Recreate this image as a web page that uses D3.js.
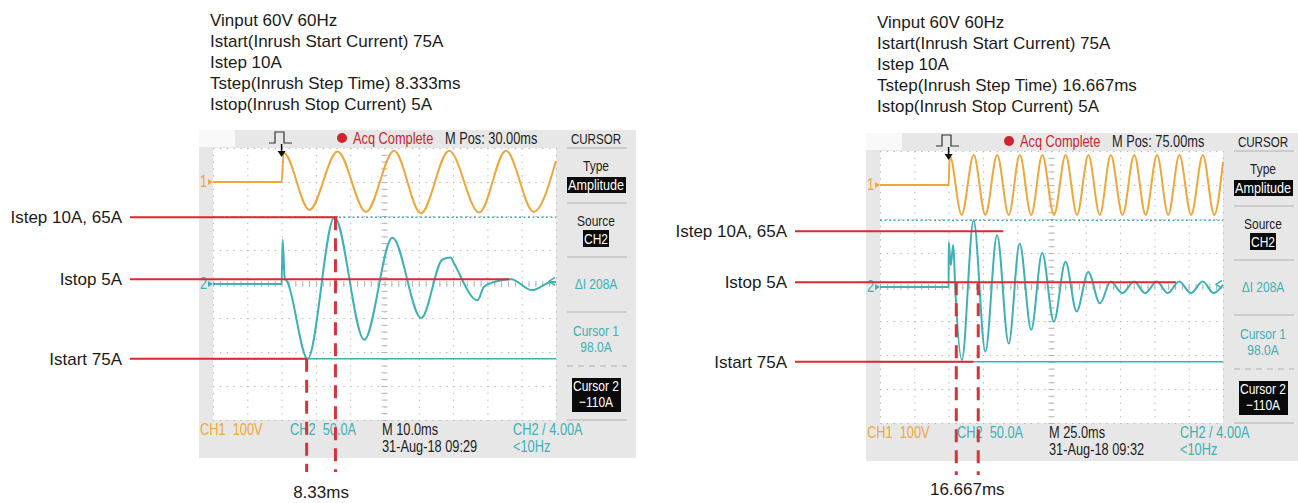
<!DOCTYPE html>
<html lang="en">
<head>
<meta charset="utf-8" />
<title>Inrush current captures</title>
<style>
  body { margin: 0; background: #fff; }
  svg { display: block; }
  .note { font: 17px "Liberation Sans", Arial, sans-serif; fill: #1b1b1b; }
  .scope text { font-family: "Liberation Sans", Arial, sans-serif; font-size: 16px; }
  .scope .side { font-size: 15px; }
  .scope .head { font-size: 14.5px; }
  .grid line { stroke: #b4b4b4; }
  .grid path { display: none; }
</style>
</head>
<body>
<div id="chart"></div>
<script src="https://d3js.org/d3.v7.min.js"></script>
<script>
var width = 1298, height = 503;

// settings printed above each capture
var leftNotes = ["Vinput 60V 60Hz", "Istart(Inrush Start Current) 75A", "Istep 10A",
                 "Tstep(Inrush Step Time) 8.333ms", "Istop(Inrush Stop Current) 5A"];
var rightNotes = ["Vinput 60V 60Hz", "Istart(Inrush Start Current) 75A", "Istep 10A",
                  "Tstep(Inrush Step Time) 16.667ms", "Istop(Inrush Stop Current) 5A"];

// left capture (10 ms/div): time in ms, CH1 in volts, CH2 in amps
var leftCh1Time = [-20, 0, 0.6, 8.1, 16.3, 24.6, 32.8, 40.6, 48.8, 57.6, 65.4, 73.5, 80];
var leftCh1Volt = [0, 0, 86, -82, 90, -88, 92, -92, 92, -90, 92, -88, 62];
var leftCh2Time = [-20, 0, 0.3, 0.9, 1.7, 7.6, 15.4, 24.1, 32.3, 40.7, 46.9, 49.3, 50.3, 57.1, 59.0, 62.0, 66.9, 73.0, 78.8, 80];
var leftCh2Amp  = [0, 0, 65, 9, 3, -110, 98, -82, 68, -50, 36, 39, 30, -24, -4, 3, 7, -9, 3, 3];

// right capture (25 ms/div)
var rightCh1Time = [-50, 0, 0.8, 9.5, 18.3, 26.8, 35.4, 43.8, 51.9, 60.2, 68.3, 76.8, 85.3, 93.6,
                    101.9, 110.2, 118.2, 126.8, 135.3, 143.6, 151.9, 160.1, 168.2, 176.8, 185.3, 193.6, 200];
var rightCh1Volt = [0, 0, 86, -88, 88, -88, 88, -88, 88, -88, 88, -88, 88, -88,
                    88, -88, 88, -88, 88, -88, 88, -88, 88, -88, 88, -88, 68];
var rightCh2Time = [-50, 0, 0.1, 1.5, 3.4, 4.8, 9.7, 18.2, 26.8, 35.3, 43.8, 51.8, 60.2, 68.2, 76.7, 85.2,
                    93.3, 101.8, 110.3, 118.1, 126.7, 135.2, 143.2, 151.8, 159.6, 168.1, 176.6, 185.2, 193.2, 200];
var rightCh2Amp  = [0, 0, 66, 32, 62, 0, -107, 98, -95, 76, -83, 64, -63, 50, -51, 37,
                    -36, 22, -24, 8, -9, 8, -9, 8, -9, 8, -9, 8, -9, 3];

// red annotations: level lines (CH2 amps) that end at a time (ms), dashed time markers
var levelLabels = ["Istep 10A, 65A", "Istop 5A", "Istart 75A"];
var leftLevelAmp = [98, 7, -110];
var leftLevelEnd = [16.3, 66.3, 7.3];
var leftMarkTime = [7.3, 15.7];
var leftMarkTop = [-110, 98];
var rightLevelAmp = [82, 7, -110];
var rightLevelEnd = [39.9, 165.7, 18];
var rightMarkTime = [5.6, 21.6];
var rightMarkTop = [7, 7];

var cursor1 = 98, cursor2 = -110, trigLevel = 4;

var svg = d3.select("#chart").append("svg")
    .attr("width", width)
    .attr("height", height);

var ORANGE = "#eea73a", TEAL = "#3db1b4", RED = "#df282d";

// scope screen font is condensed, so squeeze text horizontally
function st(g, x, y, str, fill, anchor, cls, sx) {
  return g.append("text")
    .attr("class", cls || null)
    .attr("transform", "translate(" + x + "," + y + ") scale(" + (sx || 0.8) + ",1)")
    .attr("text-anchor", anchor || "start")
    .attr("fill", fill)
    .attr("xml:space", "preserve")
    .text(str);
}

function drawScope(s) {
  var gw = 343, gh = 272;
  var g = svg.append("g").attr("class", "scope");
  var x = d3.scaleLinear().domain(s.timeDomain).range([s.gx, s.gx + gw]);
  var y1 = d3.scaleLinear().domain([-700, 100]).range([s.gy + gh, s.gy]);
  var y2 = d3.scaleLinear().domain([-200, 200]).range([s.gy + gh, s.gy]);
  var right = s.gx + gw;

  // bezel + graticule
  g.append("rect").attr("x", s.gx - 14).attr("y", s.gy - 18)
    .attr("width", 437).attr("height", 328).attr("fill", "#e7e7e7");
  g.append("rect").attr("x", s.gx - 14).attr("y", s.gy - 18)
    .attr("width", 36).attr("height", 17).attr("fill", "#f9f9f9");
  g.append("rect").attr("x", s.gx).attr("y", s.gy)
    .attr("width", gw).attr("height", gh).attr("fill", "#fff");

  var div = s.timeDiv;
  var xGrid = d3.range(s.timeDomain[0], s.timeDomain[1] + div / 2, div);
  var yGrid = d3.range(-200, 201, 50);

  g.append("g").attr("class", "grid")
    .attr("transform", "translate(0," + s.gy + ")")
    .call(d3.axisTop(x).tickValues(xGrid).tickSize(-gh).tickFormat(""))
    .selectAll("line").attr("stroke-dasharray", "1.3," + (gh / 40 - 1.3));
  g.append("g").attr("class", "grid")
    .attr("transform", "translate(" + s.gx + ",0)")
    .call(d3.axisLeft(y2).tickValues(yGrid).tickSize(-gw).tickFormat(""))
    .selectAll("line").attr("stroke-dasharray", "1.3," + (gw / 50 - 1.3));

  // minor ticks on the centre lines
  var midT = (s.timeDomain[0] + s.timeDomain[1]) / 2;
  var minorT = d3.range(s.timeDomain[0], s.timeDomain[1], div / 5);
  var minorA = d3.range(-200, 200, 10);
  g.append("g").attr("class", "grid")
    .attr("transform", "translate(0," + y2(0) + ")")
    .call(d3.axisBottom(x).tickValues(minorT).tickSize(3).tickFormat(""));
  g.append("g").attr("class", "grid")
    .attr("transform", "translate(0," + y2(0) + ")")
    .call(d3.axisTop(x).tickValues(minorT).tickSize(3).tickFormat(""));
  g.append("g").attr("class", "grid")
    .attr("transform", "translate(" + x(midT) + ",0)")
    .call(d3.axisRight(y2).tickValues(minorA).tickSize(3).tickFormat(""));
  g.append("g").attr("class", "grid")
    .attr("transform", "translate(" + x(midT) + ",0)")
    .call(d3.axisLeft(y2).tickValues(minorA).tickSize(3).tickFormat(""));

  // cursors
  g.append("line").attr("x1", s.gx).attr("x2", right)
    .attr("y1", y2(cursor1)).attr("y2", y2(cursor1))
    .attr("stroke", TEAL).attr("stroke-width", 1.5).attr("stroke-dasharray", "2,2.5");
  g.append("line").attr("x1", s.gx).attr("x2", right)
    .attr("y1", y2(cursor2)).attr("y2", y2(cursor2))
    .attr("stroke", TEAL).attr("stroke-width", 1.5);

  // traces
  var line1 = d3.line().x(function(d) { return x(d[0]); }).y(function(d) { return y1(d[1]); }).curve(d3.curveMonotoneX);
  var line2 = d3.line().x(function(d) { return x(d[0]); }).y(function(d) { return y2(d[1]); }).curve(d3.curveMonotoneX);
  g.append("path").datum(d3.zip(s.ch1Time, s.ch1Volt)).attr("d", line1)
    .attr("fill", "none").attr("stroke", ORANGE).attr("stroke-width", 2);
  g.append("path").datum(d3.zip(s.ch2Time, s.ch2Amp)).attr("d", line2)
    .attr("fill", "none").attr("stroke", TEAL).attr("stroke-width", 2);

  // channel ground markers
  st(g, s.gx - 13, y1(0) + 5, "1", ORANGE);
  g.append("path").attr("d", "M" + (s.gx - 5) + "," + (y1(0) - 3) + "l5,3l-5,3z").attr("fill", ORANGE);
  st(g, s.gx - 13, y2(0) + 5, "2", TEAL);
  g.append("path").attr("d", "M" + (s.gx - 5) + "," + (y2(0) - 3) + "l5,3l-5,3z").attr("fill", TEAL);
  g.append("path").attr("d", "M" + (right - 1) + "," + (y2(trigLevel) - 4) + "l-6,4l6,4")
    .attr("fill", "none").attr("stroke", TEAL).attr("stroke-width", 1.5);

  // top bar
  var tx = x(0);
  g.append("path").attr("d", "M" + (s.gx + 56) + "," + (s.gy - 5) + "h6v-11h9v11h8")
    .attr("fill", "none").attr("stroke", "#333").attr("stroke-width", 1.2);
  g.append("line").attr("x1", tx).attr("x2", tx).attr("y1", s.gy - 4).attr("y2", s.gy + 4)
    .attr("stroke", "#111").attr("stroke-width", 1.5);
  g.append("path").attr("d", "M" + (tx - 4) + "," + (s.gy + 3) + "h8l-4,6z").attr("fill", "#111");
  g.append("circle").attr("cx", s.gx + 129).attr("cy", s.gy - 10).attr("r", 5).attr("fill", "#d2222c");
  st(g, s.gx + 140, s.gy - 4, "Acq Complete", "#c9262f");
  st(g, s.gx + 232, s.gy - 4, s.mpos, "#1e1e1e");

  // side menu
  var cx = right + 40;
  st(g, cx, s.gy - 4, "CURSOR", "#1e1e1e", "middle", "head");
  [0, 55, 109, 164, 218, 272].forEach(function(r, i) {
    g.append("line").attr("x1", right + 11).attr("x2", right + 71)
      .attr("y1", s.gy + r).attr("y2", s.gy + r)
      .attr("stroke", "#c3c3c3").attr("stroke-width", 1.5)
      .attr("stroke-dasharray", i === 4 ? "6,5" : null);
  });
  st(g, cx, s.gy + 23, "Type", "#1e1e1e", "middle", "side");
  g.append("rect").attr("x", right + 11).attr("y", s.gy + 29).attr("width", 59).attr("height", 16).attr("fill", "#0a0a0a");
  st(g, cx, s.gy + 42, "Amplitude", "#fff", "middle", "side", 0.84);
  st(g, cx, s.gy + 78, "Source", "#1e1e1e", "middle", "side");
  g.append("rect").attr("x", cx - 13).attr("y", s.gy + 82).attr("width", 26).attr("height", 17).attr("fill", "#0a0a0a");
  st(g, cx, s.gy + 96, "CH2", "#fff", "middle", "side");
  st(g, cx, s.gy + 141, "\u0394I 208A", TEAL, "middle", "side");
  st(g, cx, s.gy + 188, "Cursor 1", TEAL, "middle", "side");
  st(g, cx, s.gy + 204, cursor1.toFixed(1) + "A", TEAL, "middle", "side");
  g.append("rect").attr("x", right + 16).attr("y", s.gy + 230).attr("width", 49).attr("height", 34).attr("fill", "#0a0a0a");
  st(g, cx, s.gy + 243, "Cursor 2", "#fff", "middle", "side");
  st(g, cx, s.gy + 259, "\u2212" + Math.abs(cursor2) + "A", "#fff", "middle", "side");

  // status bar
  var r1 = s.gy + 287, r2 = s.gy + 304;
  st(g, s.gx - 13, r1, "CH1  100V", ORANGE);
  st(g, s.gx + 77, r1, "CH2  50.0A", TEAL);
  st(g, s.gx + 169, r1, s.mscale, "#1e1e1e");
  st(g, s.gx + 169, r2, s.stamp, "#1e1e1e");
  st(g, s.gx + 300, r1, "CH2 / 4.00A", TEAL);
  st(g, s.gx + 300, r2, "<10Hz", TEAL);

  // notes above
  svg.append("g").selectAll("text").data(s.notes).enter().append("text")
    .attr("class", "note")
    .attr("x", s.noteX)
    .attr("y", function(d, i) { return s.noteY + i * 21; })
    .text(function(d) { return d; });

  // red annotations
  var a = svg.append("g");
  s.levelAmp.forEach(function(v, i) {
    a.append("line").attr("x1", s.labelX + 8).attr("x2", x(s.levelEnd[i]))
      .attr("y1", y2(v)).attr("y2", y2(v))
      .attr("stroke", RED).attr("stroke-width", 2);
    a.append("text").attr("class", "note").attr("x", s.labelX).attr("y", y2(v) + 6)
      .attr("text-anchor", "end").text(levelLabels[i]);
  });
  s.markTime.forEach(function(t, i) {
    a.append("line").attr("x1", x(t)).attr("x2", x(t))
      .attr("y1", y2(s.markTop[i])).attr("y2", s.gy + 324)
      .attr("stroke", "#d7343a").attr("stroke-width", 3).attr("stroke-dasharray", "13,8");
  });
  a.append("text").attr("class", "note")
    .attr("x", (x(s.markTime[0]) + x(s.markTime[1])) / 2)
    .attr("y", s.gy + s.markLabelDy)
    .attr("text-anchor", "middle").text(s.markLabel);
}

drawScope({
  gx: 213, gy: 148, timeDomain: [-20, 80], timeDiv: 10,
  ch1Time: leftCh1Time, ch1Volt: leftCh1Volt, ch2Time: leftCh2Time, ch2Amp: leftCh2Amp,
  mpos: "M Pos: 30.00ms", mscale: "M 10.0ms", stamp: "31-Aug-18 09:29",
  notes: leftNotes, noteX: 210, noteY: 26,
  labelX: 122, levelAmp: leftLevelAmp, levelEnd: leftLevelEnd,
  markTime: leftMarkTime, markTop: leftMarkTop, markLabel: "8.33ms", markLabelDy: 350
});
drawScope({
  gx: 880, gy: 151, timeDomain: [-50, 200], timeDiv: 25,
  ch1Time: rightCh1Time, ch1Volt: rightCh1Volt, ch2Time: rightCh2Time, ch2Amp: rightCh2Amp,
  mpos: "M Pos: 75.00ms", mscale: "M 25.0ms", stamp: "31-Aug-18 09:32",
  notes: rightNotes, noteX: 877, noteY: 28,
  labelX: 787, levelAmp: rightLevelAmp, levelEnd: rightLevelEnd,
  markTime: rightMarkTime, markTop: rightMarkTop, markLabel: "16.667ms", markLabelDy: 344
});
</script>
</body>
</html>
